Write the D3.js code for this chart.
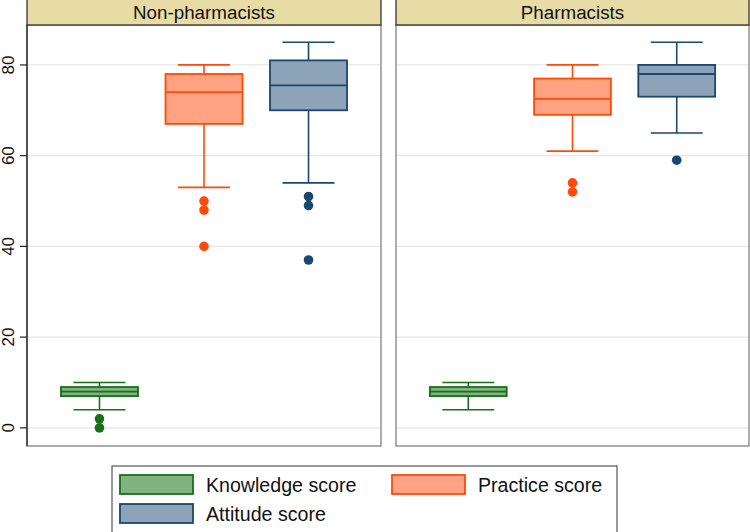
<!DOCTYPE html>
<html><head><meta charset="utf-8">
<script src="https://cdn.jsdelivr.net/npm/d3@7"></script>
<style>body{margin:0;background:#fff}svg{display:block;font-family:"Liberation Sans",Arial,sans-serif}</style>
</head><body><svg id="c" width="750" height="532"></svg>
<script>
const panels = ["Non-pharmacists", "Pharmacists"];
const series = ["Knowledge score", "Practice score", "Attitude score"];
// [whiskerLow, q1, median, q3, whiskerHigh]
const nonPharmStats = [[4, 7, 8, 9, 10], [53, 67, 74, 78, 80], [54, 70, 75.5, 81, 85]];
const pharmStats = [[4, 7, 8, 9, 10], [61, 69, 72.5, 77, 80], [65, 73, 78, 80, 85]];
const nonPharmOutliers = [[2, 0], [50, 48, 40], [51, 49, 37]];
const pharmOutliers = [[], [54, 52], [59]];
const yTicks = [0, 20, 40, 60, 80];
const strokeColors = ["#1a6e1a", "#ff4a0a", "#1a476f"];
const fillColors = ["#7fb37f", "#ffa383", "#8da3b8"];

const svg = d3.select("#c");
const y = d3.scaleLinear().domain([-4, 88.8]).range([446, 25]);
const panelX = [[27, 381], [396, 749]];
const stats = [nonPharmStats, pharmStats];
const outs = [nonPharmOutliers, pharmOutliers];

panels.forEach((name, pi) => {
  const [x0, x1] = panelX[pi];
  const x = d3.scaleBand().domain(series).range([x0, x1]).paddingInner(0.263).paddingOuter(0.325);
  const g = svg.append("g");
  g.selectAll(".grid").data(yTicks).join("line")
    .attr("x1", x0).attr("x2", x1).attr("y1", d => y(d)).attr("y2", d => y(d))
    .attr("stroke", "#e6e6e6").attr("stroke-width", 1.2);
  g.append("rect").attr("x", x0).attr("y", 25).attr("width", x1 - x0).attr("height", 446 - 25)
    .attr("fill", "none").attr("stroke", "#777").attr("stroke-width", 1.2);
  g.append("rect").attr("x", x0).attr("y", -1).attr("width", x1 - x0).attr("height", 26)
    .attr("fill", "#e8dca6").attr("stroke", "#333").attr("stroke-width", 1.3);
  g.append("text").attr("x", (x0 + x1) / 2).attr("y", 18.5).attr("text-anchor", "middle")
    .attr("font-size", "18.8px").attr("fill", "#111").text(name);

  series.forEach((s, si) => {
    const st = stats[pi][si];
    const cx = x(s) + x.bandwidth() / 2;
    const bw = x.bandwidth();
    const cap = bw * 0.675;
    const gg = g.append("g");
    gg.append("line").attr("x1", cx).attr("x2", cx).attr("y1", y(st[0])).attr("y2", y(st[1]))
      .attr("stroke", strokeColors[si]).attr("stroke-width", 1.6);
    gg.append("line").attr("x1", cx).attr("x2", cx).attr("y1", y(st[3])).attr("y2", y(st[4]))
      .attr("stroke", strokeColors[si]).attr("stroke-width", 1.6);
    [st[0], st[4]].forEach(v => gg.append("line").attr("x1", cx - cap / 2).attr("x2", cx + cap / 2)
      .attr("y1", y(v)).attr("y2", y(v)).attr("stroke", strokeColors[si]).attr("stroke-width", 1.6));
    gg.append("rect").attr("x", x(s)).attr("width", bw).attr("y", y(st[3])).attr("height", y(st[1]) - y(st[3]))
      .attr("fill", fillColors[si]).attr("stroke", strokeColors[si]).attr("stroke-width", 1.8);
    gg.append("line").attr("x1", x(s)).attr("x2", x(s) + bw).attr("y1", y(st[2])).attr("y2", y(st[2]))
      .attr("stroke", strokeColors[si]).attr("stroke-width", 1.8);
    gg.selectAll("circle").data(outs[pi][si]).join("circle")
      .attr("cx", cx).attr("cy", d => y(d)).attr("r", 4.8).attr("fill", strokeColors[si]);
  });
});

const ax = svg.append("g").attr("transform", "translate(27,0)");
ax.append("line").attr("x1", 0).attr("x2", 0).attr("y1", 25).attr("y2", 446).attr("stroke", "#222").attr("stroke-width", 1.3);
ax.selectAll(".t").data(yTicks).join("line").attr("x1", -7).attr("x2", 0)
  .attr("y1", d => y(d)).attr("y2", d => y(d)).attr("stroke", "#222").attr("stroke-width", 1.2);
ax.selectAll(".l").data(yTicks).join("text")
  .attr("transform", d => `translate(-13,${y(d)}) rotate(-90)`)
  .attr("text-anchor", "middle").attr("font-size", "17px").attr("fill", "#111").text(d => d);

const lg = svg.append("g");
lg.append("rect").attr("x", 112).attr("y", 466).attr("width", 505).attr("height", 70)
  .attr("fill", "#fff").attr("stroke", "#555").attr("stroke-width", 1.2);
const legPos = [[120, 475], [392, 475], [120, 504]];
series.forEach((s, i) => {
  const [lx, ly] = legPos[i];
  lg.append("rect").attr("x", lx).attr("y", ly).attr("width", 73).attr("height", 19)
    .attr("fill", fillColors[i]).attr("stroke", strokeColors[i]).attr("stroke-width", 1.8);
  lg.append("text").attr("x", lx + 86).attr("y", ly + 16.5).attr("font-size", "19.6px").attr("fill", "#111").text(s);
});
</script></body></html>
